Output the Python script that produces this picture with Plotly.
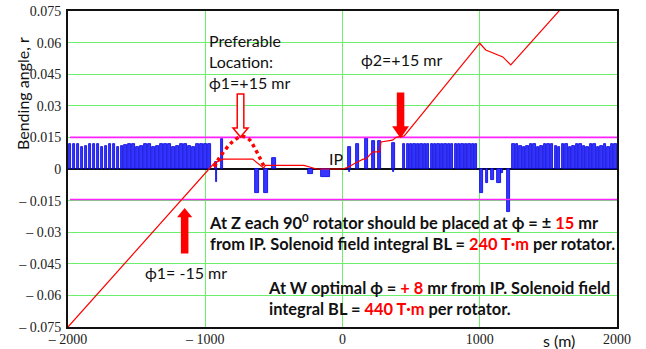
import plotly.graph_objects as go

# ---------------- data ----------------
# left arc dipoles
left_s = [-1985, -1956, -1927, -1898, -1869, -1840, -1811, -1782, -1753, -1724,
          -1695, -1666, -1637, -1608, -1579, -1550, -1521, -1492, -1463, -1434,
          -1405, -1376, -1347, -1318, -1289, -1260, -1231, -1202, -1173, -1144,
          -1115, -1086, -1057, -1028, -999, -970]
left_h = [0.0118, 0.0118, 0.0118, 0.0104, 0.0108, 0.0118, 0.0118, 0.0118, 0.0104, 0.0108,
          0.0118, 0.0118, 0.0104, 0.0108, 0.0114, 0.0118, 0.0118, 0.0104, 0.0108, 0.0118,
          0.0118, 0.0104, 0.0108, 0.0118, 0.0118, 0.0118, 0.0104, 0.0110, 0.0118, 0.0118,
          0.0108, 0.0104, 0.0118, 0.0118, 0.0118, 0.0118]

# interaction region magnets, left side of IP
irl_s = [-925, -918, -876, -622, -558, -500, -235, -124]
irl_h = [0.0035, -0.0062, 0.0142, -0.0115, -0.0115, 0.0052, -0.0024, -0.0039]
irl_w = [14, 5, 14, 34, 32, 34, 40, 60]

# interaction region magnets, right side of IP
irr_s = [51, 51, 110, 175, 226, 270, 372, 372]
irr_h = [0.0106, -0.0015, 0.0119, 0.0147, 0.0133, 0.0133, 0.0123, -0.0015]
irr_w = [18, 5, 18, 18, 18, 18, 18, 5]

# regular cells between IR and 1000 m
mid_s = [450, 475, 500, 525, 550, 575, 600, 625, 650, 675, 700,
         725, 750, 775, 800, 825, 850, 875, 900, 925, 950, 975]
mid_h = [0.0119, 0.0120, 0.0119, 0.0118, 0.0119, 0.0120, 0.0119, 0.0118, 0.0119, 0.0119, 0.0118,
         0.0119, 0.0120, 0.0119, 0.0118, 0.0119, 0.0119, 0.0120, 0.0119, 0.0118, 0.0119, 0.0119]

# negative bends near 1000-1200 m
neg_s = [1014, 1051, 1095, 1139, 1163, 1207]
neg_h = [-0.0114, -0.0066, -0.0052, -0.0066, -0.0019, -0.0204]
neg_w = [22, 14, 24, 26, 14, 22]

# right arc dipoles
right_s = [1245, 1271, 1297, 1322, 1348, 1374, 1399, 1425, 1451, 1477,
           1502, 1528, 1554, 1579, 1605, 1631, 1656, 1682, 1708, 1734,
           1759, 1785, 1811, 1836, 1862, 1888, 1913, 1939, 1965, 1990]
right_h = [0.0118, 0.0118, 0.0108, 0.0104, 0.0108, 0.0118, 0.0118, 0.0104, 0.0108, 0.0118,
           0.0118, 0.0118, 0.0108, 0.0104, 0.0118, 0.0118, 0.0104, 0.0108, 0.0118, 0.0118,
           0.0108, 0.0104, 0.0118, 0.0118, 0.0104, 0.0108, 0.0118, 0.0104, 0.0118, 0.0118]

# accumulated bending angle (red line)
orbit_s = [-2000, -971, -934, -869, -655, -575, -560, -280, -220, -190, 0,
           40, 95, 150, 170, 220, 270, 280, 365, 390, 450,
           1000, 1044, 1168, 1226, 1577, 1620]
orbit_phi = [-0.075, 0.0, 0.0028, 0.0047, 0.0047, 0.0005, 0.0017, 0.0017, 0.0006, 0.0, 0.0,
             0.0008, 0.0028, 0.0047, 0.0047, 0.0081, 0.0081, 0.0128, 0.0137, 0.0150, 0.0157,
             0.0597, 0.0565, 0.0532, 0.0494, 0.075, 0.0781]

# preferable (dotted) orbit bump
bump_s = [-934, -900, -850, -800, -735, -680, -640, -600, -569]
bump_phi = [0.001, 0.005, 0.0095, 0.013, 0.0155, 0.014, 0.010, 0.005, 0.0008]

# rotator angle limits
limit_phi = [0.015, -0.0145]

y_ticks = [0.075, 0.06, 0.045, 0.03, 0.015, 0, -0.015, -0.03, -0.045, -0.06, -0.075]
y_text = ["0.075", "0.06", "0.045", "0.03", "0.015", "0",
          "\u2013 0.015", "\u2013 0.03", "\u2013 0.045", "\u2013 0.06", "\u2013 0.075"]
x_ticks = [-2000, -1000, 0, 1000, 2000]
x_text = ["\u2013 2000", "\u2013 1000", "0", "1000", "2000"]

# ---------------- figure ----------------
BAR_FILL = "#3535ff"
BAR_LINE = "#0000e0"
fig = go.Figure()

def add_bars(xs, ys, ws):
    fig.add_trace(go.Bar(x=xs, y=ys, width=ws, base=0,
                         marker=dict(color=BAR_FILL, line=dict(color=BAR_LINE, width=0.8)),
                         showlegend=False, hoverinfo="skip"))

add_bars(left_s, left_h, 19)
add_bars(irl_s, irl_h, irl_w)
add_bars(irr_s, irr_h, irr_w)
add_bars(mid_s, mid_h, 17)
add_bars(neg_s, neg_h, neg_w)
add_bars(right_s, right_h, 18)

for lv in limit_phi:
    fig.add_trace(go.Scatter(x=[-1985, 2000], y=[lv, lv], mode="lines",
                             line=dict(color="#ff22ff", width=1.6),
                             showlegend=False, hoverinfo="skip"))

fig.add_trace(go.Scatter(x=orbit_s, y=orbit_phi, mode="lines",
                         line=dict(color="#ff0000", width=1.2),
                         showlegend=False, hoverinfo="skip"))
fig.add_trace(go.Scatter(x=bump_s, y=bump_phi, mode="lines", line_shape="spline",
                         line=dict(color="#ff0000", width=3.5, dash="dot"),
                         showlegend=False, hoverinfo="skip"))

# arrows
def down_arrow(cx, top, neck, tip, hw, sw, fill):
    path = (f"M {cx-sw},{top} L {cx+sw},{top} L {cx+sw},{neck} L {cx+hw},{neck} "
            f"L {cx},{tip} L {cx-hw},{neck} L {cx-sw},{neck} Z")
    fig.add_shape(type="path", path=path, xref="x", yref="y",
                  fillcolor=fill, line=dict(color="#ff0000", width=1.5), layer="above")

down_arrow(-743, 0.0356, 0.0195, 0.0152, 55, 24, "white")
down_arrow(423, 0.0360, 0.0199, 0.0152, 51, 22, "#ff0000")
down_arrow(-1150, -0.0397, -0.0226, -0.0191, 44, 22, "#ff0000")

TXT = dict(family="Lato, 'Noto Sans', sans-serif", size=16, color="#111111")
RED = "<span style='color:#ff0000'>{}</span>"

def note(x, y, text, size=16, **kw):
    f = dict(TXT); f["size"] = size
    fig.add_annotation(x=x, y=y, xref="x", yref="y", text=text, showarrow=False,
                       xanchor="left", yanchor="middle", align="left", font=f, **kw)

note(-985, 0.0508, "Preferable<br>Location:<br>\u03d51=+15 mr")
note(118, 0.0522, "\u03d52=+15 mr")
note(-116, 0.0052, "IP")
note(-1455, -0.0489, "\u03d51= -15 mr")
note(-985, -0.0301,
     "<b>At Z each 90<sup>0</sup> rotator should be placed at \u03d5 = \u00b1 " + RED.format("15") + " mr<br>"
     "from IP. Solenoid field integral BL = " + RED.format("240 T\u00b7m") + " per rotator.</b>", size=16.4)
note(-560, -0.0612,
     "<b>At W optimal \u03d5 = " + RED.format("+ 8") + " mr from IP. Solenoid field<br>"
     "integral BL = " + RED.format("440 T\u00b7m") + " per rotator.</b>", size=16.4)

fig.add_annotation(x=-0.0838, y=0.7405, xref="paper", yref="paper", text="Bending angle, r",
                   textangle=-90, showarrow=False, xanchor="center", yanchor="middle", font=TXT)
fig.add_annotation(x=1575, y=-0.044, xref="x", yref="paper", text="s (m)",
                   showarrow=False, xanchor="center", yanchor="middle", font=TXT)

GRID = "#6cf06c"
TICKF = dict(family="'Liberation Serif', 'Times New Roman', serif", size=14, color="#222222")
fig.update_layout(
    width=646, height=349,
    margin=dict(l=68, r=29, t=11, b=22, autoexpand=False),
    paper_bgcolor="white", plot_bgcolor="white",
    barmode="overlay", bargap=0,
    xaxis=dict(range=[-2000, 2000], tickvals=x_ticks, ticktext=x_text, tickfont=TICKF,
               showgrid=True, gridcolor=GRID, gridwidth=1, zeroline=False,
               showline=True, linecolor="#111111", linewidth=2, mirror=True,
               ticks="", ticklabelstandoff=-2, automargin=False),
    yaxis=dict(range=[-0.075, 0.075], tickvals=y_ticks, ticktext=y_text, tickfont=TICKF,
               showgrid=True, gridcolor=GRID, gridwidth=1,
               zeroline=True, zerolinecolor="#111111", zerolinewidth=2,
               showline=True, linecolor="#111111", linewidth=2, mirror=True,
               ticks="", ticklabelstandoff=2, automargin=False),
)

fig.write_html("out.html", config={"displayModeBar": False},
               post_script="document.body.style.margin='0';")
